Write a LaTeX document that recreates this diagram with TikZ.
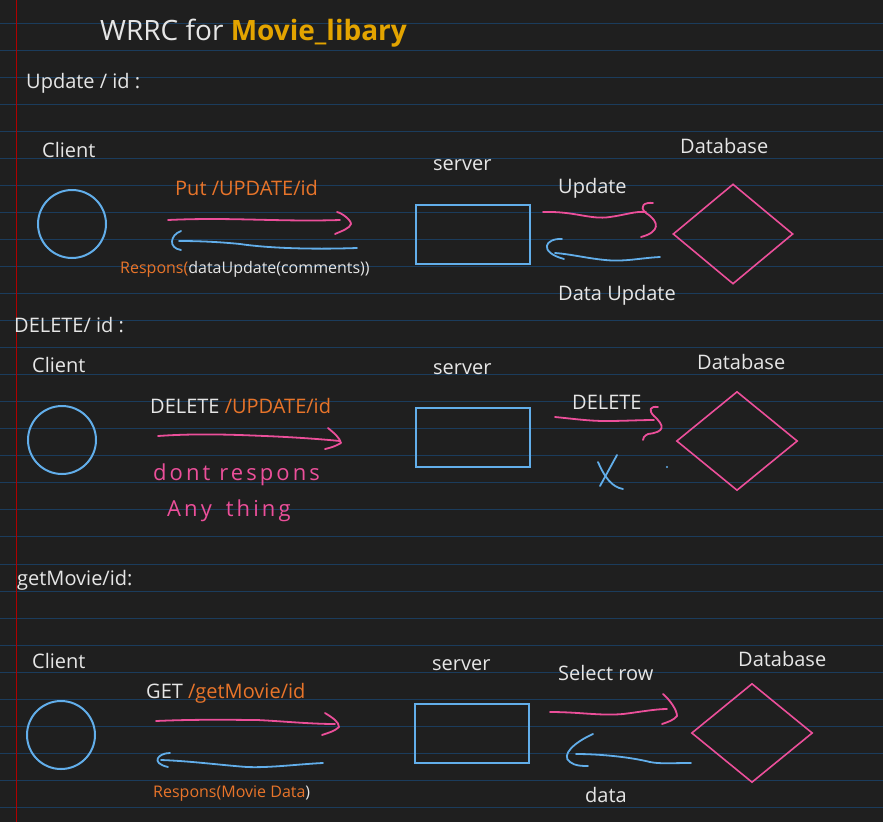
\documentclass[tikz,border=0pt]{standalone}
\usepackage{fontspec}
\setmainfont{Open Sans}
\newfontfamily\handfont[LetterSpace=14]{Open Sans}
\usetikzlibrary{shapes.geometric}
\definecolor{paper}{RGB}{31, 31, 31}
\definecolor{ruling}{RGB}{27, 60, 92}
\definecolor{margin}{RGB}{176, 0, 0}
\definecolor{chalk}{RGB}{230, 230, 230}
\definecolor{route}{RGB}{232, 116, 42}
\definecolor{gold}{RGB}{227, 164, 0}
\definecolor{pen}{RGB}{236, 79, 154}
\definecolor{sky}{RGB}{98, 174, 234}

\begin{document}
\begin{tikzpicture}[x=1pt, y=-1pt,
    lbl/.style={anchor=base west, inner sep=0pt, text=chalk, font=\fontsize{20}{24}\selectfont},
    small/.style={lbl, font=\fontsize{16}{19}\selectfont},
    hand/.style={lbl, text=pen, font=\handfont\fontsize{22}{26}\selectfont},
    client/.style={draw=sky, line width=2pt, circle, minimum size=68pt, inner sep=0pt},
    srv/.style={draw=sky, line width=2pt, rectangle, minimum width=114pt, minimum height=59pt, inner sep=0pt},
    db/.style={draw=pen, line width=1.6pt, diamond, minimum width=120pt, minimum height=100pt, inner sep=0pt},
    req/.style={draw=pen, line width=1.8pt, line cap=round, line join=round},
    res/.style={draw=sky, line width=1.8pt, line cap=round, line join=round}]

    % page
    \fill[paper] (0,0) rectangle (883,822);
    \useasboundingbox (0,0) rectangle (883,822);
    \foreach \k in {0,...,29}
        \draw[ruling, line width=1pt] (0,{23+27.05*\k}) -- (883,{23+27.05*\k});
    \draw[margin, line width=1pt] (16.5,0) -- (16.5,822);

    \node[lbl, font=\fontsize{28}{32}\selectfont] (title) at (100,40) {WRRC for \textcolor{gold}{\textbf{Movie\_libary}}};

    % Update / id
    \node[lbl] (upd) at (26,88) {Update / id :};
    \node[lbl] (cl1lbl) at (42,157) {Client};
    \node[client] (cl1) at (72,224) {};
    \node[lbl, text=route] (put) at (175,195) {Put /UPDATE/id};
    \node[small] (resp1) at (120,273) {\textcolor{route}{Respons(}dataUpdate(comments))};
    \node[lbl] (sv1lbl) at (433,170) {server};
    \node[srv] (sv1) at (473,234.5) {};
    \node[lbl] (db1lbl) at (680,153) {Database};
    \node[db] (db1) at (733,234) {};
    \node[lbl] (q1) at (558,193) {Update};
    \node[lbl] (a1) at (558,300) {Data Update};

    \coordinate (p1s) at (168,220);
    \coordinate (p1e) at (340,220);
    \coordinate (r1s) at (357,248);
    \coordinate (r1e) at (179,241);
    \coordinate (p2s) at (543,212);
    \coordinate (p2e) at (646,212);
    \coordinate (r2s) at (660,257);
    \coordinate (r2e) at (555,253);
    \draw[req] (p1s) .. controls (230,217) and (280,222) .. (p1e);
    \draw[req] (337,212) .. controls (342,213) and (351,220) .. (351,224) .. controls (350,228) and (342,231) .. (335,234);
    \draw[res] (r1s) .. controls (300,250) and (260,247) .. (240,244) .. controls (220,242) and (200,241) .. (r1e);
    \draw[res] (181,231) .. controls (170,235) and (168,248) .. (181,250);
    \draw[req] (p2s) .. controls (575,211) and (590,220) .. (610,217) .. controls (625,215) and (635,211) .. (p2e);
    \draw[req] (653,203) .. controls (645,202) and (638,206) .. (646,213) .. controls (660,222) and (660,232) .. (641,237);
    \draw[res] (r2s) .. controls (640,258) and (625,262) .. (605,260) .. controls (585,258) and (570,254) .. (r2e);
    \draw[res] (562,239) .. controls (545,238) and (538,252) .. (564,259);

    % DELETE / id
    \node[lbl] (del) at (14,332) {DELETE/ id :};
    \node[lbl] (cl2lbl) at (32,372) {Client};
    \node[client] (cl2) at (62,440) {};
    \node[lbl] (delreq) at (150,413) {DELETE \textcolor{route}{/UPDATE/id}};
    \node[hand] (none1) at (153,480) {dont respons};
    \node[hand] (none2) at (167,516) {Any\hspace{14pt}thing};
    \node[lbl] (sv2lbl) at (433,374) {server};
    \node[srv] (sv2) at (473,437.5) {};
    \node[lbl] (db2lbl) at (697,369) {Database};
    \node[db, minimum width=121pt, minimum height=99pt] (db2) at (737,441) {};
    \node[lbl] (q2) at (572,409) {DELETE};

    \coordinate (p3s) at (158,436);
    \coordinate (p3e) at (340,441);
    \coordinate (p4s) at (555,417);
    \coordinate (p4e) at (654,420);
    \draw[req] (p3s) .. controls (200,433) and (240,435) .. (265,436) .. controls (290,437) and (320,439) .. (p3e);
    \draw[req] (328,428) .. controls (334,433) and (340,438) .. (341,443) .. controls (336,446) and (330,448) .. (325,449);
    \draw[req] (p4s) .. controls (575,419) and (590,421) .. (605,421) .. controls (625,421) and (640,420) .. (p4e);
    \draw[req] (658,407) .. controls (650,406) and (648,410) .. (654,416) .. controls (665,426) and (665,432) .. (648,434) .. controls (644,436) and (643,438) .. (643,440);
    \draw[res] (617,455) -- (600,486);
    \draw[res] (598,462) .. controls (605,478) and (612,487) .. (623,489);
    \fill[sky] (667,467) circle (1.1pt);

    % getMovie / id
    \node[lbl] (get) at (17,585) {getMovie/id:};
    \node[lbl] (cl3lbl) at (32,668) {Client};
    \node[client] (cl3) at (61,735) {};
    \node[lbl] (getreq) at (146,698) {GET \textcolor{route}{/getMovie/id}};
    \node[small, text=route] (resp3) at (153,797) {Respons(Movie Data\textcolor{chalk}{)}};
    \node[lbl] (sv3lbl) at (432,670) {server};
    \node[srv] (sv3) at (472,733.5) {};
    \node[lbl] (db3lbl) at (738,666) {Database};
    \node[db, minimum width=121pt, minimum height=99pt] (db3) at (752,733) {};
    \node[lbl] (q3) at (558,680) {Select row};
    \node[lbl] (a3) at (585,802) {data};

    \coordinate (p5s) at (156,721);
    \coordinate (p5e) at (335,724);
    \coordinate (r5s) at (323,763);
    \coordinate (r5e) at (161,760);
    \coordinate (p6s) at (550,712);
    \coordinate (p6e) at (667,709);
    \coordinate (r6s) at (691,763);
    \coordinate (r6e) at (576,754);
    \draw[req] (p5s) .. controls (200,719) and (240,720) .. (257,720) .. controls (280,721) and (310,724) .. (p5e);
    \draw[req] (325,713) .. controls (333,718) and (339,722) .. (339,727) .. controls (335,731) and (328,733) .. (322,735);
    \draw[res] (r5s) .. controls (300,764) and (270,768) .. (247,767) .. controls (220,765) and (190,761) .. (r5e);
    \draw[res] (170,753) .. controls (158,753) and (150,763) .. (168,767);
    \draw[req] (p6s) .. controls (580,712) and (600,716) .. (623,714) .. controls (640,712) and (655,709) .. (p6e);
    \draw[req] (663,694) .. controls (670,700) and (677,710) .. (677,716) .. controls (674,720) and (668,722) .. (662,724);
    \draw[res] (r6s) .. controls (670,763) and (660,764) .. (650,762) .. controls (630,757) and (600,754) .. (r6e);
    \draw[res] (593,734) .. controls (575,742) and (560,755) .. (570,762) .. controls (575,766) and (582,766) .. (588,766);
\end{tikzpicture}
\end{document}
